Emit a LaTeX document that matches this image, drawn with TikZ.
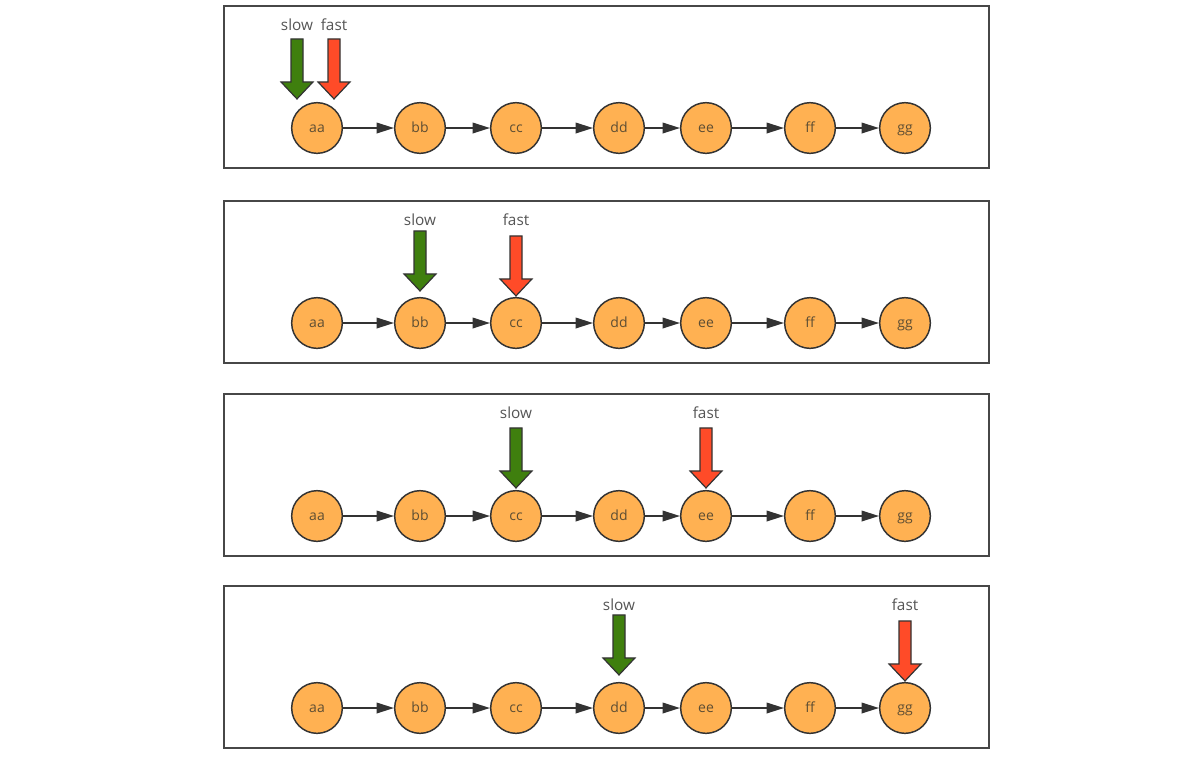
\documentclass[tikz,border=0pt]{standalone}
\usepackage{fontspec}
\setmainfont{Open Sans}
\usepackage{xcolor}
\definecolor{nodeorange}{HTML}{FFB152}
\definecolor{slowgreen}{HTML}{3F7F0E}
\definecolor{fastred}{HTML}{FF4B28}
\definecolor{edgegray}{HTML}{333333}
\definecolor{labelgray}{HTML}{555555}
\definecolor{itemtext}{HTML}{5E4E33}
\usetikzlibrary{arrows.meta,calc}
% pointer: {dx,dy} offset of the tip from the node top, panel, node, colour, label
\newcommand{\pointer}[5]{%
  \coordinate (#3-#5-tip) at ($(#3.north)+(#1)$);
  \begin{scope}[shift={(#3-#5-tip)}]
    \filldraw[fill=#4, draw=edgegray, line width=0.9pt, line join=miter]
      (-6,-60) -- (6,-60) -- (6,-17) -- (16,-17) -- (0,0)
      -- (-16,-17) -- (-6,-17) -- cycle;
  \end{scope}
  \node[ptrlabel, yshift=-14.6pt] (#3-#5) at (#3-#5-tip |- panel#2.north) {#5};}

\begin{document}
\begin{tikzpicture}[
  x=0.75pt, y=-0.75pt,
  item/.style={circle, draw=edgegray, fill=nodeorange, line width=1.1pt,
               minimum size=38pt, inner sep=0pt, text=itemtext,
               text height=1.45ex, text depth=0.2ex,
               font=\fontsize{10.5}{12}\selectfont},
  link/.style={-{Triangle[length=13pt, width=8pt]}, draw=edgegray,
               line width=1.1pt},
  panelbox/.style={draw=edgegray!90, line width=1.5pt, minimum width=573.75pt,
                   minimum height=121.5pt, inner sep=0pt},
  ptrlabel/.style={text=labelgray, inner sep=0pt,
                   font=\fontsize{11.5}{13}\selectfont}
]
\fill[white] (0,0) rectangle (1193,758);
\useasboundingbox (0,0) rectangle (1193,758);

\foreach \p/\yc in {1/128,2/323,3/516,4/708}{
  \node[panelbox] (panel\p) at (606.5,\yc-41) {};
  \foreach \n/\x in {aa/317,bb/420,cc/516,dd/619,ee/706,ff/810,gg/905}
    \node[item] (p\p\n) at (\x,\yc) {\n};
  \foreach \a/\b in {aa/bb,bb/cc,cc/dd,dd/ee,ee/ff,ff/gg}
    \draw[link] (p\p\a) -- (p\p\b);
}

\pointer{-20,-3}{1}{p1aa}{slowgreen}{slow}
\pointer{17,-3}{1}{p1aa}{fastred}{fast}
\pointer{0,-6}{2}{p2bb}{slowgreen}{slow}
\pointer{0,-1}{2}{p2cc}{fastred}{fast}
\pointer{0,-2}{3}{p3cc}{slowgreen}{slow}
\pointer{0,-2}{3}{p3ee}{fastred}{fast}
\pointer{0,-7}{4}{p4dd}{slowgreen}{slow}
\pointer{0,-1}{4}{p4gg}{fastred}{fast}
\end{tikzpicture}
\end{document}
